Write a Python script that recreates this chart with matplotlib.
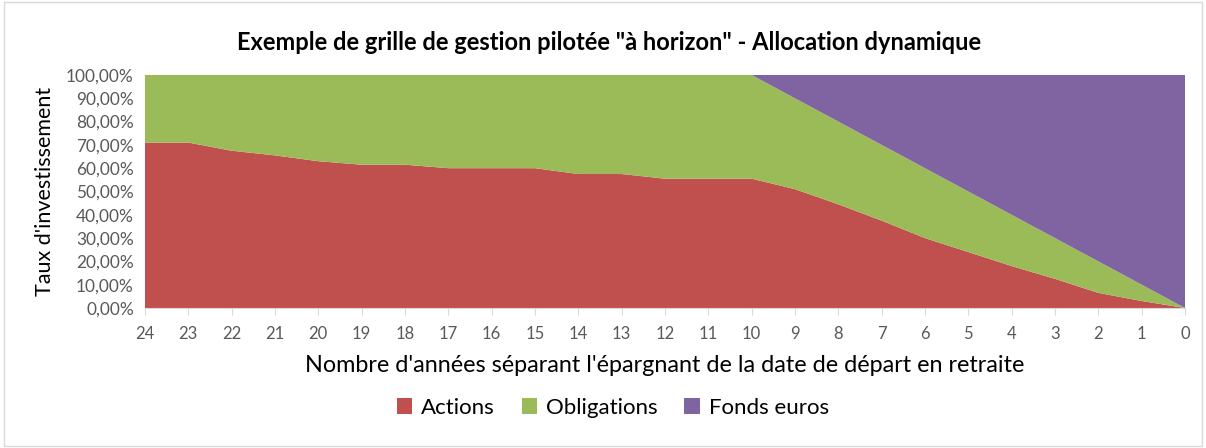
import matplotlib
matplotlib.use("Agg")
import matplotlib.pyplot as plt
from matplotlib.patches import Rectangle
from matplotlib.ticker import FuncFormatter

plt.rcParams['font.family'] = ['Lato', 'DejaVu Sans']

# années avant la retraite
years = [24, 23, 22, 21, 20, 19, 18, 17, 16, 15, 14, 13, 12,
         11, 10, 9, 8, 7, 6, 5, 4, 3, 2, 1, 0]
actions = [71, 71, 67.5, 65.5, 63, 61.5, 61.5, 60, 60, 60, 57.5, 57.5, 55.5,
           55.5, 55.5, 51, 44.5, 37.5, 30, 24, 18, 12.5, 6.5, 3, 0]
fonds_euros = [0, 0, 0, 0, 0, 0, 0, 0, 0, 0, 0, 0, 0,
               0, 0, 10, 20, 30, 40, 50, 60, 70, 80, 90, 100]
obligations = [100 - a - f for a, f in zip(actions, fonds_euros)]

labels = ['Actions', 'Obligations', 'Fonds euros']
colors = ['#c0504d', '#9bbb59', '#8064a2']

fig = plt.figure(figsize=(12.06, 4.48), dpi=100)
ax = fig.add_axes([0.1202, 0.3125, 0.8624, 0.5201])

x = list(range(len(years)))
ax.stackplot(x, actions, obligations, fonds_euros, colors=colors, labels=labels,
             linewidth=0)

ax.set_xlim(0, len(years) - 1)
ax.set_ylim(0, 100)
ax.set_xticks(x)
ax.set_xticklabels([str(y) for y in years])
ax.set_yticks(range(0, 101, 10))
ax.yaxis.set_major_formatter(FuncFormatter(lambda v, p: f"{v:.2f}%".replace('.', ',')))

for s in ['top', 'right', 'left']:
    ax.spines[s].set_visible(False)
ax.spines['bottom'].set_color('#d9d9d9')
ax.tick_params(axis='y', length=0, labelsize=12.4, labelcolor='#595959', pad=8)
ax.tick_params(axis='x', length=5, color='#d9d9d9', labelsize=12,
               labelcolor='#595959', pad=8)

ax.set_ylabel("Taux d'investissement", fontsize=15.5, labelpad=8)
ax.set_xlabel("Nombre d'années séparant l'épargnant de la date de départ en retraite",
              fontsize=16.8, labelpad=9)
fig.text(0.505, 0.905, 'Exemple de grille de gestion pilotée "à horizon" - Allocation dynamique',
         ha='center', va='center', fontsize=17, fontweight='bold')

ax.legend(loc='upper center', bbox_to_anchor=(0.45, -0.30), ncol=3, frameon=False,
          fontsize=16, handlelength=0.7, handleheight=0.7, handletextpad=0.4,
          columnspacing=1.2)

fig.patches.append(Rectangle((0.003, 0.005), 0.994, 0.99, transform=fig.transFigure,
                             fill=False, edgecolor='#d9d9d9', linewidth=1))

fig.savefig('out.png', dpi=100)
